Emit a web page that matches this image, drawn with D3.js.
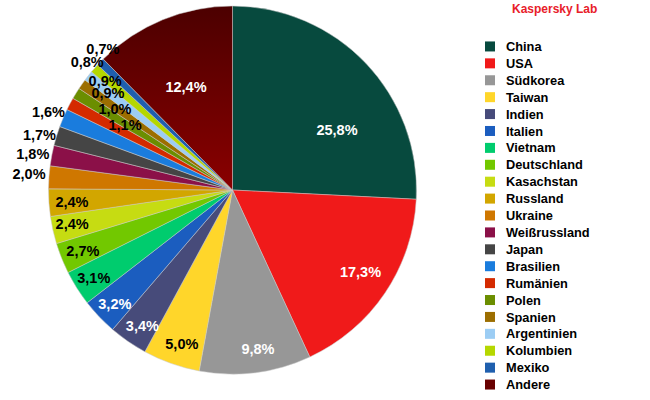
<!DOCTYPE html>
<html>
<head>
<meta charset="utf-8">
<script src="https://cdn.jsdelivr.net/npm/d3@7"></script>
<style>
  body { margin: 0; background: #fff; }
  svg { font-family: "Liberation Sans", Arial, sans-serif; }
</style>
</head>
<body>
<svg id="chart" width="650" height="400"></svg>
<script>
// data
const countries = ["China", "USA", "Südkorea", "Taiwan", "Indien", "Italien", "Vietnam",
  "Deutschland", "Kasachstan", "Russland", "Ukraine", "Weißrussland", "Japan", "Brasilien",
  "Rumänien", "Polen", "Spanien", "Argentinien", "Kolumbien", "Mexiko", "Andere"];
const shares = [25.8, 17.3, 9.8, 5.0, 3.4, 3.2, 3.1, 2.7, 2.4, 2.4, 2.0, 1.8, 1.7, 1.6,
  1.1, 1.0, 0.9, 0.9, 0.8, 0.7, 12.4];
const colors = ["#074a3e", "#f01a1a", "#979797", "#ffd62a", "#474b7a", "#1b5dbf", "#00cc6e",
  "#72c800", "#c6dc12", "#d2a600", "#cf7700", "#8b1048", "#454545", "#1a7cdd",
  "#d42a00", "#6b8e00", "#9c6e00", "#9ccdf4", "#b5d700", "#1f5fae", "#680000"];

// label placement (fraction of radius, angle nudge in degrees) and text colour
const labelR = [0.655, 0.824, 0.875, 0.88, 0.886, 0.89, 0.891, 0.878, 0.891, 0.875,
  1.109, 1.103, 1.092, 1.087, 0.683, 0.776, 0.858, 0.911, 1.053, 1.041, 0.614];
const labelNudge = [13.7, -1.6, -1.9, -1.2, -1, -0.5, 0, -0.4, 0.6, -0.3,
  0.5, -0.6, -1, 0, 3.3, 2.9, 2.8, 2.2, 0, 3.3, -2];
const whiteLabels = ["China", "USA", "Südkorea", "Indien", "Italien", "Andere"];

const svg = d3.select("#chart");
const cx = 232.5, cy = 190, radius = 184;

// "Andere" is shaded darker towards the top
const grad = svg.append("defs").append("linearGradient")
  .attr("id", "andere").attr("x1", 0).attr("y1", 0).attr("x2", 0).attr("y2", 1);
grad.append("stop").attr("offset", "0%").attr("stop-color", "#4c0000");
grad.append("stop").attr("offset", "100%").attr("stop-color", "#8a0000");

const pie = d3.pie().sort(null).value(d => d);
const arcs = pie(shares);
const arc = d3.arc().innerRadius(0).outerRadius(radius);

const g = svg.append("g").attr("transform", "translate(" + cx + "," + cy + ")");

g.selectAll("path")
  .data(arcs)
  .enter()
  .append("path")
  .attr("d", arc)
  .attr("fill", (d, i) => countries[i] === "Andere" ? "url(#andere)" : colors[i])
  .attr("stroke", "#c8c8c8")
  .attr("stroke-width", 0.5);

g.selectAll("text.lbl")
  .data(arcs)
  .enter()
  .append("text")
  .attr("class", "lbl")
  .attr("transform", function (d, i) {
    let a = (d.startAngle + d.endAngle) / 2 + labelNudge[i] * Math.PI / 180;
    let r = radius * labelR[i];
    return "translate(" + (r * Math.sin(a)) + "," + (-r * Math.cos(a)) + ")";
  })
  .attr("text-anchor", "middle")
  .attr("dy", "0.36em")
  .attr("font-size", "14.5px")
  .attr("font-weight", "bold")
  .attr("fill", (d, i) => whiteLabels.includes(countries[i]) ? "#fff" : "#000")
  .text(d => d.data.toFixed(1).replace(".", ",") + "%");

// legend
const y = d3.scaleBand().domain(countries).range([38, 393]);
const legend = svg.append("g");
const rows = legend.selectAll("g")
  .data(countries)
  .enter()
  .append("g")
  .attr("transform", d => "translate(0," + y(d) + ")");

rows.append("rect")
  .attr("x", 485)
  .attr("y", y.bandwidth() / 2 - 5)
  .attr("width", 10)
  .attr("height", 10)
  .attr("fill", (d, i) => colors[i]);

rows.append("text")
  .attr("x", 506)
  .attr("y", y.bandwidth() / 2)
  .attr("dy", "0.36em")
  .attr("font-size", "12.8px")
  .attr("font-weight", "bold")
  .attr("fill", "#000")
  .text(d => d);

svg.append("text")
  .attr("x", 512)
  .attr("y", 13)
  .attr("font-size", "12px")
  .attr("font-weight", "bold")
  .attr("fill", "#e8202a")
  .text("Kaspersky Lab");
</script>
</body>
</html>
